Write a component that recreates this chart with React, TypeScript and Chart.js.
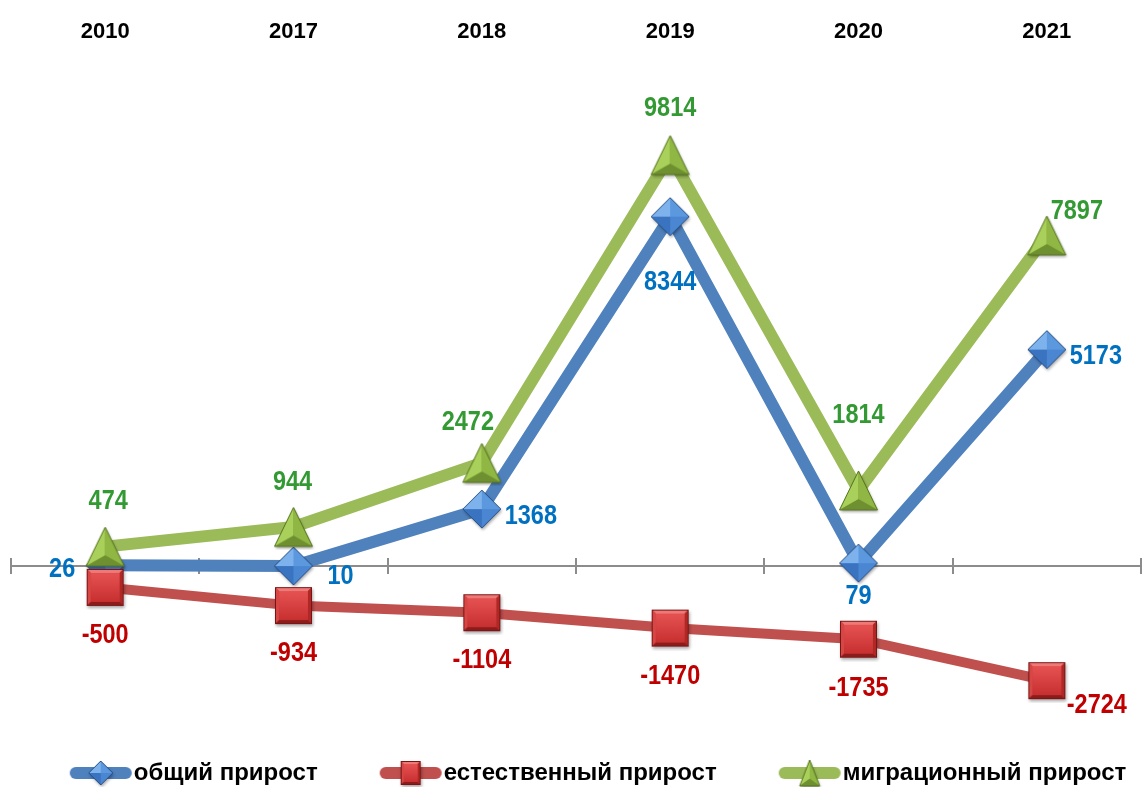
import React, { useEffect, useRef } from "react";
import { Chart, registerables } from "chart.js";
Chart.register(...registerables);

const years = ["2010", "2017", "2018", "2019", "2020", "2021"];
const totalGrowth = [26, 10, 1368, 8344, 79, 5173];
const naturalGrowth = [-500, -934, -1104, -1470, -1735, -2724];
const migrationGrowth = [474, 944, 2472, 9814, 1814, 7897];
const seriesNames = ["общий прирост", "естественный прирост", "миграционный прирост"];

// label placement relative to each point (dx, dy)
const totalLabelOffsets = [[-43, 4], [47, 11], [49, 7], [0, 66], [0, 33], [49, 7]];
const naturalLabelOffsets = [[0, 48], [0, 48], [0, 48], [0, 48], [0, 49], [50, 25]];
const migrationLabelOffsets = [[3, -45], [-1, -44], [-14, -40], [0, -47], [0, -75], [30, -24]];

const FONT = '"Liberation Sans", Arial, sans-serif';
const BLUE = "#4f81bd";
const RED = "#c0504d";
const GREEN = "#9bbb59";
const LEGEND_FONT = 24;
const LEGEND_BOX = 104;

function mk(w: number, h: number) {
  const c = document.createElement("canvas");
  c.width = w;
  c.height = h;
  return c;
}

function poly(ctx: CanvasRenderingContext2D, pts: number[][], fill: any) {
  ctx.beginPath();
  ctx.moveTo(pts[0][0], pts[0][1]);
  for (let i = 1; i < pts.length; i++) ctx.lineTo(pts[i][0], pts[i][1]);
  ctx.closePath();
  ctx.fillStyle = fill;
  ctx.fill();
}

function withShadow(ctx: CanvasRenderingContext2D, fn: () => void) {
  ctx.save();
  ctx.shadowColor = "rgba(0,0,0,0.35)";
  ctx.shadowBlur = 3;
  ctx.shadowOffsetX = 1;
  ctx.shadowOffsetY = 2;
  fn();
  ctx.restore();
}

function diamond(r: number) {
  const s = Math.ceil(2 * r + 8);
  const c = mk(s, s);
  const ctx = c.getContext("2d")!;
  const cx = s / 2, cy = s / 2;
  const T = [cx, cy - r], R = [cx + r, cy], B = [cx, cy + r], L = [cx - r, cy], C = [cx, cy];
  withShadow(ctx, () => poly(ctx, [T, R, B, L], "#2d64ad"));
  poly(ctx, [T, L, C], "#7db2ec");
  poly(ctx, [T, R, C], "#5c98de");
  poly(ctx, [L, B, C], "#3a74c0");
  poly(ctx, [R, B, C], "#4a86d2");
  ctx.beginPath();
  ctx.moveTo(T[0], T[1]); ctx.lineTo(R[0], R[1]); ctx.lineTo(B[0], B[1]); ctx.lineTo(L[0], L[1]); ctx.closePath();
  ctx.strokeStyle = "#254f86";
  ctx.lineWidth = 1;
  ctx.stroke();
  return c;
}

function square(hw: number, hh: number) {
  const s = Math.ceil(2 * Math.max(hw, hh) + 8);
  const c = mk(s, s);
  const ctx = c.getContext("2d")!;
  const cx = s / 2, cy = s / 2;
  const x0 = cx - hw, x1 = cx + hw, y0 = cy - hh, y1 = cy + hh;
  const b = Math.max(3, hw * 0.22);
  withShadow(ctx, () => poly(ctx, [[x0, y0], [x1, y0], [x1, y1], [x0, y1]], "#b82a2a"));
  poly(ctx, [[x0, y0], [x1, y0], [x1 - b, y0 + b], [x0 + b, y0 + b]], "#ee7a78");
  poly(ctx, [[x0, y0], [x0 + b, y0 + b], [x0 + b, y1 - b], [x0, y1]], "#d64644");
  poly(ctx, [[x1, y0], [x1, y1], [x1 - b, y1 - b], [x1 - b, y0 + b]], "#b02826");
  poly(ctx, [[x0, y1], [x0 + b, y1 - b], [x1 - b, y1 - b], [x1, y1]], "#8c1c1c");
  const g = ctx.createLinearGradient(0, y0 + b, 0, y1 - b);
  g.addColorStop(0, "#e65252");
  g.addColorStop(1, "#c83030");
  poly(ctx, [[x0 + b, y0 + b], [x1 - b, y0 + b], [x1 - b, y1 - b], [x0 + b, y1 - b]], g);
  ctx.strokeStyle = "#7a1414";
  ctx.lineWidth = 1;
  ctx.strokeRect(x0 + 0.5, y0 + 0.5, 2 * hw - 1, 2 * hh - 1);
  return c;
}

function triangle(hw: number, hh: number) {
  const s = Math.ceil(2 * Math.max(hw, hh) + 8);
  const c = mk(s, s);
  const ctx = c.getContext("2d")!;
  const cx = s / 2, cy = s / 2;
  const A = [cx, cy - hh], BL = [cx - hw, cy + hh], BR = [cx + hw, cy + hh], C = [cx, cy + hh * 0.45];
  withShadow(ctx, () => poly(ctx, [A, BR, BL], "#7a9a35"));
  poly(ctx, [A, BL, C], "#a9d05a");
  poly(ctx, [A, BR, C], "#90b744");
  poly(ctx, [BL, BR, C], "#6f9030");
  ctx.beginPath();
  ctx.moveTo(A[0], A[1]); ctx.lineTo(BR[0], BR[1]); ctx.lineTo(BL[0], BL[1]); ctx.closePath();
  ctx.strokeStyle = "#56751f";
  ctx.lineWidth = 1;
  ctx.stroke();
  return c;
}

// legend symbol: a thick line with marker, placed in the right part of a wider transparent image
function legendImage(color: string, marker: HTMLCanvasElement) {
  const w = LEGEND_BOX + LEGEND_FONT - 2;
  const h = 32;
  const c = mk(w, h);
  const ctx = c.getContext("2d")!;
  const right = w - 1;
  const left = right - 62;
  ctx.strokeStyle = color;
  ctx.lineWidth = 12;
  ctx.lineCap = "round";
  ctx.beginPath();
  ctx.moveTo(left + 6, h / 2);
  ctx.lineTo(right - 6, h / 2);
  ctx.stroke();
  ctx.drawImage(marker, Math.round((left + right) / 2 - marker.width / 2), Math.round(h / 2 - marker.height / 2));
  return c;
}

export default function App() {
  const ref = useRef<HTMLCanvasElement>(null);
  useEffect(() => {
    const markers = [diamond(19), square(18.5, 18.5), triangle(19, 19.5)];
    const legendImgs = [
      legendImage(BLUE, diamond(12)),
      legendImage(RED, square(10, 12)),
      legendImage(GREEN, triangle(10, 13)),
    ];
    const labelOffsets = [totalLabelOffsets, naturalLabelOffsets, migrationLabelOffsets];
    const labelColors = ["#0070c0", "#c00000", "#339933"];

    const zeroAxis = {
      id: "zeroAxis",
      beforeDatasetsDraw(chart: any) {
        const { ctx, chartArea, scales } = chart;
        const xs = scales.x, ys = scales.y;
        const y0 = Math.round(ys.getPixelForValue(0));
        ctx.save();
        ctx.strokeStyle = "#8c8c8c";
        ctx.lineWidth = 2;
        ctx.beginPath();
        ctx.moveTo(chartArea.left - 1, y0);
        ctx.lineTo(chartArea.right, y0);
        const n = years.length;
        const step = xs.getPixelForValue(1) - xs.getPixelForValue(0);
        for (let i = 0; i <= n; i++) {
          const x = Math.round(xs.getPixelForValue(0) - step / 2 + i * step);
          ctx.moveTo(x, y0 - 8);
          ctx.lineTo(x, y0 + 8);
        }
        ctx.stroke();
        ctx.restore();
      },
    };

    const dataLabels = {
      id: "dataLabels",
      afterDatasetsDraw(chart: any) {
        const { ctx } = chart;
        chart.data.datasets.forEach((ds: any, di: number) => {
          const meta = chart.getDatasetMeta(di);
          meta.data.forEach((pt: any, i: number) => {
            const [dx, dy] = labelOffsets[di][i];
            ctx.save();
            ctx.translate(pt.x + dx, pt.y + dy);
            ctx.scale(0.87, 1);
            ctx.font = `bold 27px ${FONT}`;
            ctx.textAlign = "center";
            ctx.textBaseline = "middle";
            ctx.fillStyle = labelColors[di];
            ctx.fillText(String(ds.data[i]), 0, 0);
            ctx.restore();
          });
        });
      },
    };

    const chart = new Chart(ref.current!, {
      type: "line",
      data: {
        labels: years,
        datasets: [
          { label: seriesNames[0], data: totalGrowth, borderColor: BLUE, backgroundColor: BLUE, borderWidth: 12, pointStyle: markers[0] as any, order: 3, clip: false as any },
          { label: seriesNames[1], data: naturalGrowth, borderColor: RED, backgroundColor: RED, borderWidth: 10, pointStyle: markers[1] as any, order: 2, clip: false as any },
          { label: seriesNames[2], data: migrationGrowth, borderColor: GREEN, backgroundColor: GREEN, borderWidth: 12, pointStyle: markers[2] as any, order: 1, clip: false as any },
        ],
      },
      options: {
        responsive: false,
        animation: false,
        events: [],
        layout: { autoPadding: false, padding: { top: 3, left: 0, right: 0, bottom: -8 } },
        scales: {
          x: {
            position: "top",
            offset: true,
            grid: { display: false, drawTicks: false },
            border: { display: false },
            ticks: { color: "#000", padding: 16, font: { family: FONT, size: 22, weight: "bold" } },
          },
          y: {
            display: true,
            min: -4402,
            max: 12048,
            ticks: { display: false },
            grid: { display: false, drawTicks: false },
            border: { display: false },
            afterFit: (s: any) => { s.width = 11; },
          },
          yRight: {
            position: "right",
            display: true,
            ticks: { display: false },
            grid: { display: false, drawTicks: false },
            border: { display: false },
            afterFit: (s: any) => { s.width = 3; },
          },
        },
        plugins: {
          tooltip: { enabled: false },
          legend: {
            position: "bottom",
            labels: {
              usePointStyle: true,
              pointStyleWidth: LEGEND_BOX,
              padding: 10,
              color: "#000",
              font: { family: FONT, size: LEGEND_FONT, weight: "bold" },
              sort: (a: any, b: any) => a.datasetIndex - b.datasetIndex,
              generateLabels: (ch: any) => {
                const items = (Chart.defaults.plugins.legend.labels as any).generateLabels(ch);
                return items.map((it: any) => ({ ...it, pointStyle: legendImgs[it.datasetIndex] }));
              },
            },
          },
        },
      } as any,
      plugins: [zeroAxis, dataLabels],
    });
    return () => chart.destroy();
  }, []);
  return (
    <div style={{ position: "fixed", left: 0, top: 0, width: 1144, height: 787, background: "#fff" }}>
      <canvas ref={ref} width={1144} height={787} />
    </div>
  );
}
